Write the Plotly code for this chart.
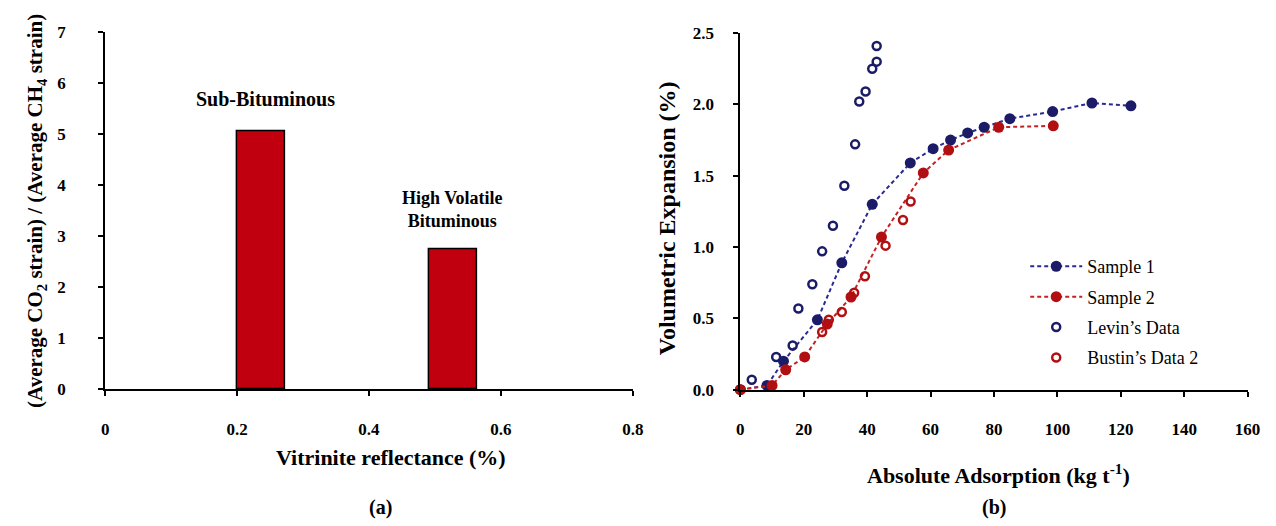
import plotly.graph_objects as go

# ---------------- data ----------------
# Panel (a)
rank_labels = ["Sub-Bituminous", "High Volatile<br>Bituminous"]
vitrinite_ro = [0.237, 0.527]
strain_ratio = [5.05, 2.75]
bar_width = 0.073

# Panel (b)
s1_x = [0, 8.4, 13.6, 24.3, 32.0, 41.6, 53.6, 60.8, 66.3, 71.7, 76.9, 85.0, 98.5, 110.9, 123.2]
s1_y = [0, 0.03, 0.20, 0.49, 0.89, 1.30, 1.59, 1.69, 1.75, 1.80, 1.84, 1.90, 1.95, 2.01, 1.99]

s2_x = [0, 10.0, 14.3, 20.3, 27.4, 34.9, 44.5, 57.7, 65.7, 81.5, 98.7]
s2_y = [0, 0.03, 0.14, 0.23, 0.46, 0.65, 1.07, 1.52, 1.68, 1.84, 1.85]

levin_x = [3.6, 11.3, 16.5, 18.3, 22.7, 25.8, 29.2, 32.8, 36.2, 37.5, 39.5, 41.6, 43.0, 43.0]
levin_y = [0.07, 0.23, 0.31, 0.57, 0.74, 0.97, 1.15, 1.43, 1.72, 2.02, 2.09, 2.25, 2.30, 2.41]

bustin_x = [25.8, 27.9, 32.0, 35.9, 39.3, 45.8, 51.3, 53.7]
bustin_y = [0.405, 0.49, 0.545, 0.68, 0.795, 1.01, 1.19, 1.32]

x_ticks_a = [0, 0.2, 0.4, 0.6, 0.8]
y_ticks_a = [0, 1, 2, 3, 4, 5, 6, 7]
x_ticks_b = [0, 20, 40, 60, 80, 100, 120, 140, 160]
y_ticks_b = [0, 0.5, 1.0, 1.5, 2.0, 2.5]

# ---------------- styles ----------------
W, H = 1276, 526
SERIF = "Liberation Serif, Times New Roman, serif"
NAVY = "#1b1b68"
NAVY_LINE = "#2a2a90"
RED = "#b20f12"
RED_LINE = "#c42222"
BAR_RED = "#c0000e"


def px(x):
    return x / W


def py(y):
    return 1 - y / H


fig = go.Figure()

fig.add_trace(go.Bar(
    x=vitrinite_ro, y=strain_ratio, width=bar_width,
    marker=dict(color=BAR_RED, line=dict(color="black", width=1.5)),
    xaxis="x", yaxis="y", showlegend=False,
))

fig.add_trace(go.Scatter(
    x=s1_x, y=s1_y, name="Sample 1", mode="lines+markers",
    line=dict(color=NAVY_LINE, width=2, dash="4px,3px"),
    marker=dict(color=NAVY, size=11),
    xaxis="x2", yaxis="y2", cliponaxis=False, legendgroup="a",
))
fig.add_trace(go.Scatter(
    x=s2_x, y=s2_y, name="Sample 2", mode="lines+markers",
    line=dict(color=RED_LINE, width=2, dash="4px,3px"),
    marker=dict(color=RED, size=11),
    xaxis="x2", yaxis="y2", cliponaxis=False, legendgroup="b",
))
fig.add_trace(go.Scatter(
    x=levin_x, y=levin_y, name="Levin\u2019s Data", mode="markers",
    marker=dict(symbol="circle-open", color=NAVY, size=8, line=dict(width=2.5, color=NAVY)),
    xaxis="x2", yaxis="y2", cliponaxis=False, legendgroup="c",
))
fig.add_trace(go.Scatter(
    x=bustin_x, y=bustin_y, name="Bustin\u2019s Data 2", mode="markers",
    marker=dict(symbol="circle-open", color=RED, size=8, line=dict(width=2.5, color=RED)),
    xaxis="x2", yaxis="y2", cliponaxis=False, legendgroup="d",
))

tickfont = dict(family=SERIF, size=17, color="black", weight="bold")
axis_common = dict(
    showgrid=False, zeroline=False, showline=True, linecolor="black", linewidth=2,
    ticks="outside", ticklen=5, tickwidth=2, tickcolor="black", tickfont=tickfont,
)

fig.update_layout(
    width=W, height=H, autosize=False,
    margin=dict(l=0, r=0, t=0, b=0),
    paper_bgcolor="white", plot_bgcolor="white",
    font=dict(family=SERIF, color="black"),
    xaxis=dict(domain=[px(102.5), px(637.3)], range=[0, 0.8], tickvals=x_ticks_a,
               ticktext=["0", "0.2", "0.4", "0.6", "0.8"], anchor="y",
               ticklabelstandoff=18, **axis_common),
    yaxis=dict(domain=[py(394.5), py(24)], range=[0, 7], tickvals=y_ticks_a, anchor="x",
               ticklabelstandoff=29, **axis_common),
    xaxis2=dict(domain=[px(746.3), px(1260.4)], range=[0, 160], tickvals=x_ticks_b, anchor="y2",
                ticklabelstandoff=18, **axis_common),
    yaxis2=dict(domain=[py(395), py(25)], range=[0, 2.5], tickvals=y_ticks_b, tickformat=".1f",
                anchor="x2", ticklabelstandoff=16, **axis_common),
    bargap=0,
    showlegend=True,
    legend=dict(x=px(1035), y=py(248), xanchor="left", yanchor="top",
                font=dict(family=SERIF, size=18, color="black"), itemwidth=52,
                traceorder="grouped", tracegroupgap=4, bgcolor="rgba(0,0,0,0)"),
)

ann_font = dict(family=SERIF, color="black", weight="bold")

# bar labels anchored on the bars
fig.add_annotation(x=vitrinite_ro[0], y=strain_ratio[0], xref="x", yref="y",
                   text=rank_labels[0], showarrow=False, xanchor="center", yanchor="bottom",
                   yshift=20, xshift=4, font=dict(size=20, **ann_font))
fig.add_annotation(x=vitrinite_ro[1], y=strain_ratio[1], xref="x", yref="y",
                   text=rank_labels[1], showarrow=False, xanchor="center", yanchor="bottom",
                   yshift=16, font=dict(size=18, **ann_font))


def paper_text(x, y, text, size, angle=0):
    fig.add_annotation(x=px(x), y=py(y), xref="paper", yref="paper", text=text,
                       textangle=angle, showarrow=False, xanchor="center", yanchor="middle",
                       font=dict(size=size, **ann_font))


# axis titles and panel labels
paper_text(33, 210, "(Average CO<sub>2</sub> strain) / (Average CH<sub>4</sub> strain)", 21, -90)
paper_text(392, 465, "Vitrinite reflectance (%)", 22)
paper_text(382, 517, "(a)", 20)
paper_text(672, 217, "Volumetric Expansion (%)", 24, -90)
paper_text(1008, 482, "Absolute Adsorption (kg t<sup>-1</sup>)", 22)
paper_text(1003, 517, "(b)", 20)

fig.write_html("out.html", config={"displayModeBar": False},
               post_script="document.body.style.margin='0';")
